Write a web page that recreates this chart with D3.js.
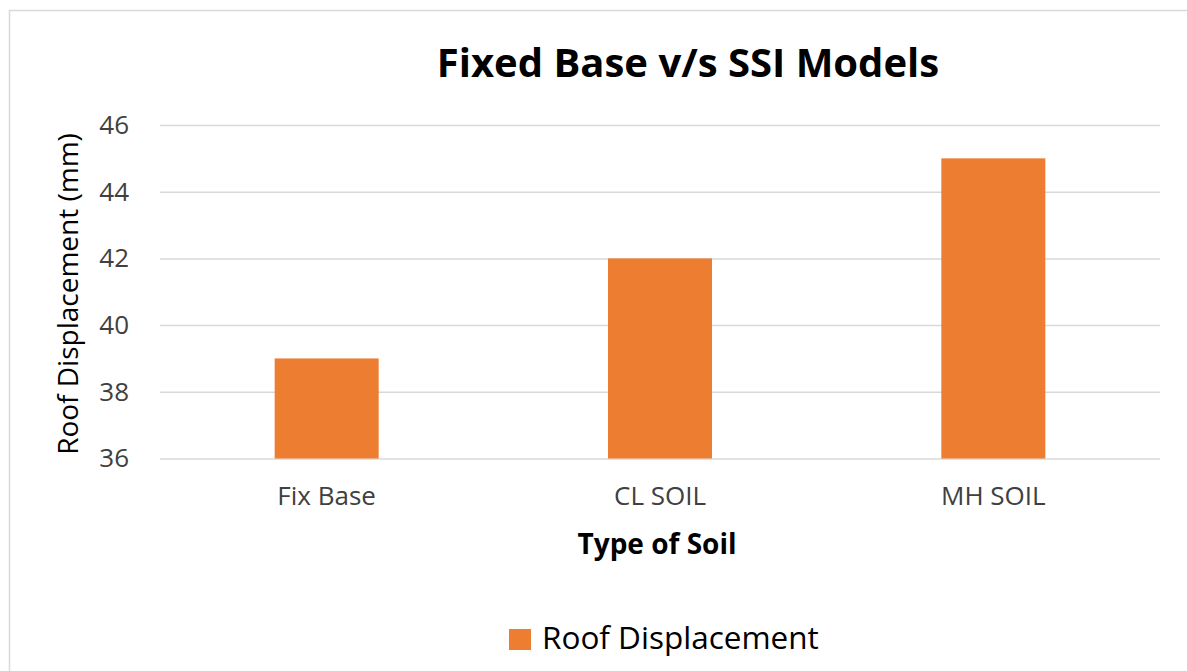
<!DOCTYPE html>
<html>
<head>
<meta charset="utf-8">
<script src="https://cdn.jsdelivr.net/npm/d3@7"></script>
<style>
  body { margin: 0; background: #fff; }
  svg { display: block; font-family: "Open Sans", sans-serif; }
  .grid line { stroke: #d9d9d9; stroke-width: 1.5; }
  .grid .domain { display: none; }
  .yaxis .domain, .yaxis line, .xaxis .domain, .xaxis line { display: none; }
  .yaxis text, .xaxis text { fill: #404040; font-size: 26px; font-family: "Open Sans", sans-serif; }
</style>
</head>
<body>
<div id="chart"></div>
<script>
(function(){

  var categories = ['Fix Base', 'CL SOIL', 'MH SOIL'];
  var displacement = [39, 42, 45];
  var yTicks = [36, 38, 40, 42, 44, 46];
  var seriesName = 'Roof Displacement';

  var width = 1187, height = 671;

  var svg = d3.select('#chart')
    .append('svg')
    .attr('width', width)
    .attr('height', height);

  // chart frame (runs off the right and bottom edges)
  svg.append('rect')
    .attr('x', 9.5)
    .attr('y', 10.5)
    .attr('width', 1250)
    .attr('height', 700)
    .attr('fill', '#fff')
    .attr('stroke', '#d9d9d9')
    .attr('stroke-width', 1.5);

  var x = d3.scaleBand()
    .domain(categories)
    .range([160, 1160])
    .paddingInner(0.688)
    .paddingOuter(0.344);

  var y = d3.scaleLinear()
    .domain([36, 46])
    .range([458.5, 125]);

  svg.append('g')
    .attr('class', 'grid')
    .attr('transform', 'translate(160,0)')
    .call(d3.axisLeft(y).tickValues(yTicks).tickSize(-1000).tickFormat(''));

  svg.append('g')
    .attr('class', 'yaxis')
    .attr('transform', 'translate(160,0)')
    .call(d3.axisLeft(y).tickValues(yTicks).tickSize(0).tickPadding(31));

  svg.append('g')
    .selectAll('rect')
    .data(displacement)
    .enter()
    .append('rect')
    .attr('x', function(d, i) {return x(categories[i]);})
    .attr('y', function(d) {return y(d);})
    .attr('width', x.bandwidth())
    .attr('height', function(d) {return y(36) - y(d);})
    .attr('fill', '#ed7d31');

  svg.append('g')
    .attr('class', 'xaxis')
    .attr('transform', 'translate(0,458.5)')
    .call(d3.axisBottom(x).tickSize(0).tickPadding(28));

  // title
  svg.append('text')
    .attr('x', 688)
    .attr('y', 77)
    .attr('text-anchor', 'middle')
    .attr('font-size', 40)
    .attr('font-weight', 'bold')
    .attr('fill', '#000')
    .text('Fixed Base v/s SSI Models');

  // axis titles
  svg.append('text')
    .attr('x', 657)
    .attr('y', 554)
    .attr('text-anchor', 'middle')
    .attr('font-size', 28)
    .attr('font-weight', 'bold')
    .attr('fill', '#000')
    .text('Type of Soil');

  svg.append('text')
    .attr('transform', 'translate(78,294) rotate(-90)')
    .attr('text-anchor', 'middle')
    .attr('font-size', 28)
    .attr('fill', '#000')
    .text('Roof Displacement (mm)');

  // legend
  var legend = svg.append('g').attr('transform', 'translate(509,629)');
  legend.append('rect')
    .attr('width', 22)
    .attr('height', 21)
    .attr('fill', '#ed7d31');
  legend.append('text')
    .attr('x', 33)
    .attr('y', 20)
    .attr('font-size', 31.5)
    .attr('fill', '#000')
    .text(seriesName);

})();
</script>
</body>
</html>
